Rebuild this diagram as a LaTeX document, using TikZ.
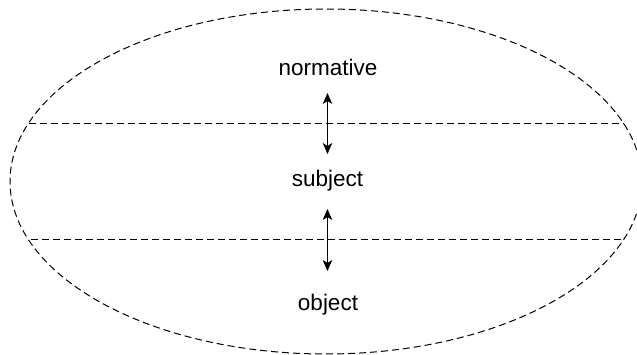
\documentclass[tikz,border=0pt]{standalone}
\usepackage{fontspec}
\setmainfont{Liberation Sans}
\usetikzlibrary{arrows.meta}
\begin{document}
\begin{tikzpicture}[x=1pt,y=-1pt,
  lay/.style={dash pattern=on 7pt off 4pt, line width=1pt},
  lbl/.style={font=\fontsize{22.5}{27}\selectfont, inner sep=0pt, anchor=base},
  link/.style={{Stealth[length=11pt,width=9.5pt,inset=3pt]}-{Stealth[length=11pt,width=9.5pt,inset=3pt]}, line width=1.1pt}]
\useasboundingbox (0,0) rectangle (637,355);
% outer boundary
\draw[lay] (326,181.5) ellipse [x radius=316, y radius=172.5];
% layer separators
\coordinate (s1w) at (29,124);
\coordinate (s1e) at (624,124);
\coordinate (s2w) at (31,240);
\coordinate (s2e) at (624,240);
\draw[lay] (s1w) -- (s1e);
\draw[lay] (s2w) -- (s2e);
% layer labels
\node[lbl] (normative) at (328,75.5) {normative};
\node[lbl] (subject) at (327.5,187) {subject};
\node[lbl] (object) at (328,310) {object};
% links between layers
\coordinate (a1) at (327.5,93);
\coordinate (a2) at (327.5,154);
\coordinate (b1) at (327.5,209);
\coordinate (b2) at (327.5,271);
\draw[link] (a1) -- (a2);
\draw[link] (b1) -- (b2);
\end{tikzpicture}
\end{document}
